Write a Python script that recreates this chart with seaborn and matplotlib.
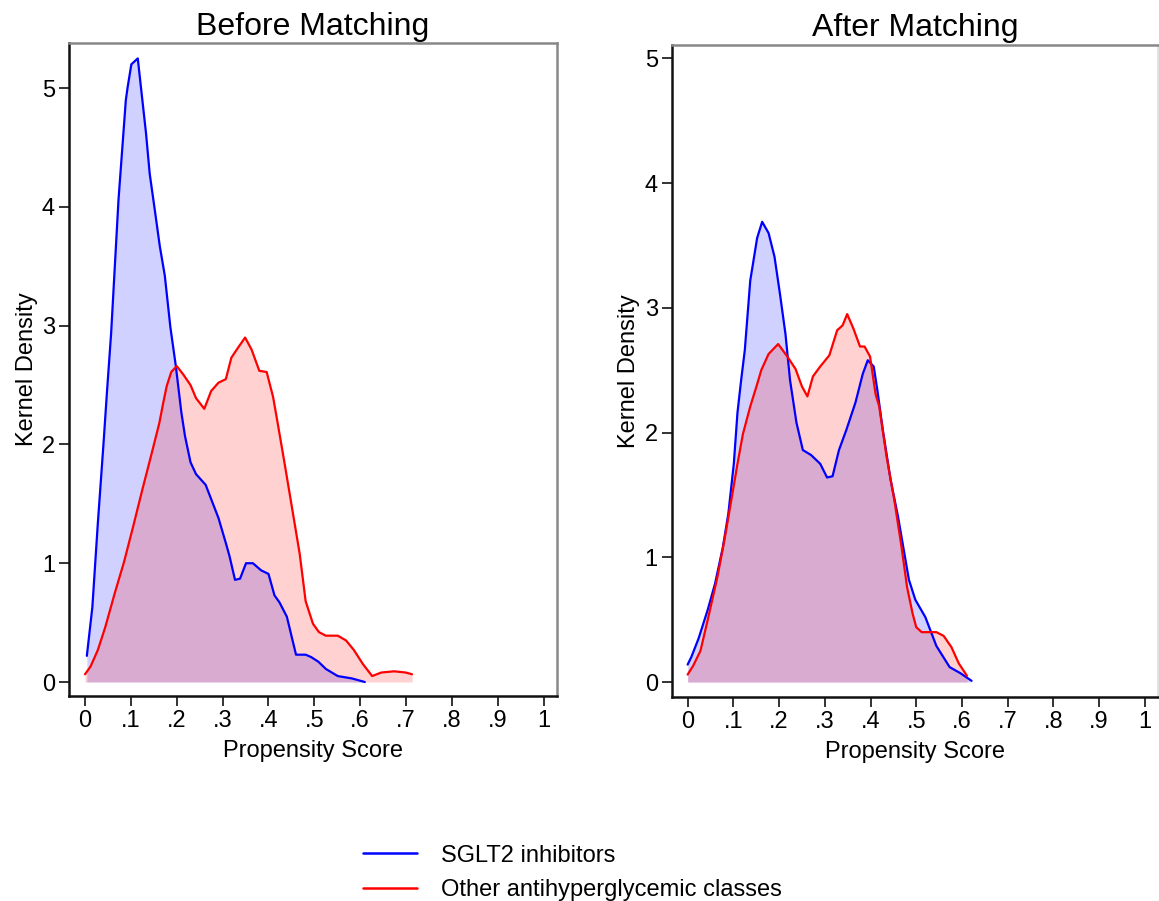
import matplotlib
matplotlib.use("Agg")
import matplotlib.pyplot as plt
import pandas as pd
import seaborn as sns
from matplotlib.lines import Line2D

groups = ["SGLT2 inhibitors", "Other antihyperglycemic classes"]
colors = ["#0000FF", "#FF0000"]

# Before matching
before_sglt2_x = [0.004, 0.016, 0.028, 0.040, 0.048, 0.057, 0.073, 0.081, 0.089, 0.093, 0.101, 0.115,
                  0.125, 0.133, 0.141, 0.153, 0.163, 0.174, 0.186, 0.198, 0.210, 0.218, 0.230, 0.242,
                  0.263, 0.275, 0.291, 0.307, 0.315, 0.327, 0.338, 0.351, 0.366, 0.384, 0.400, 0.413,
                  0.424, 0.440, 0.460, 0.481, 0.493, 0.509, 0.525, 0.551, 0.582, 0.610]
before_sglt2_y = [0.22, 0.63, 1.34, 1.99, 2.45, 2.94, 4.06, 4.48, 4.90, 5.01, 5.20, 5.25,
                  4.90, 4.62, 4.28, 3.95, 3.67, 3.42, 2.99, 2.66, 2.27, 2.07, 1.85, 1.75,
                  1.66, 1.54, 1.38, 1.17, 1.06, 0.86, 0.87, 1.00, 1.00, 0.94, 0.91, 0.73,
                  0.67, 0.55, 0.23, 0.23, 0.21, 0.17, 0.11, 0.05, 0.03, 0.00]
before_other_x = [0.000, 0.012, 0.028, 0.044, 0.065, 0.085, 0.105, 0.125, 0.145, 0.162, 0.170, 0.178,
                  0.188, 0.200, 0.214, 0.230, 0.242, 0.250, 0.260, 0.275, 0.291, 0.307, 0.319, 0.331,
                  0.349, 0.363, 0.380, 0.396, 0.410, 0.420, 0.436, 0.452, 0.468, 0.481, 0.497, 0.510,
                  0.525, 0.551, 0.569, 0.586, 0.606, 0.626, 0.646, 0.674, 0.699, 0.713]
before_other_y = [0.065, 0.13, 0.27, 0.46, 0.75, 1.01, 1.31, 1.62, 1.92, 2.18, 2.34, 2.49,
                  2.61, 2.66, 2.59, 2.50, 2.39, 2.35, 2.30, 2.45, 2.52, 2.55, 2.73, 2.80,
                  2.90, 2.80, 2.62, 2.61, 2.40, 2.18, 1.82, 1.45, 1.08, 0.68, 0.49, 0.42,
                  0.39, 0.39, 0.35, 0.27, 0.15, 0.05, 0.08, 0.09, 0.08, 0.065]

# After matching
after_sglt2_x = [0.000, 0.008, 0.024, 0.044, 0.060, 0.077, 0.089, 0.101, 0.109, 0.117, 0.125, 0.137,
                 0.152, 0.163, 0.177, 0.190, 0.202, 0.214, 0.224, 0.238, 0.252, 0.270, 0.290, 0.305,
                 0.317, 0.331, 0.347, 0.367, 0.383, 0.394, 0.407, 0.415, 0.427, 0.444, 0.460, 0.484,
                 0.498, 0.520, 0.544, 0.573, 0.597, 0.621]
after_sglt2_y = [0.14, 0.20, 0.35, 0.58, 0.79, 1.08, 1.35, 1.75, 2.16, 2.42, 2.66, 3.22,
                 3.56, 3.69, 3.60, 3.41, 3.11, 2.79, 2.42, 2.08, 1.86, 1.82, 1.75, 1.64,
                 1.65, 1.86, 2.02, 2.24, 2.47, 2.58, 2.53, 2.34, 2.02, 1.62, 1.33, 0.82,
                 0.66, 0.52, 0.29, 0.12, 0.07, 0.01]
after_other_x = [0.000, 0.012, 0.028, 0.044, 0.065, 0.081, 0.097, 0.109, 0.121, 0.137, 0.153, 0.161,
                 0.177, 0.198, 0.218, 0.236, 0.250, 0.262, 0.274, 0.290, 0.310, 0.327, 0.339, 0.349,
                 0.363, 0.377, 0.387, 0.399, 0.411, 0.419, 0.435, 0.452, 0.468, 0.480, 0.492, 0.500,
                 0.512, 0.544, 0.560, 0.577, 0.593, 0.611]
after_other_y = [0.06, 0.13, 0.25, 0.50, 0.84, 1.15, 1.49, 1.75, 1.99, 2.21, 2.40, 2.50,
                 2.63, 2.71, 2.61, 2.51, 2.37, 2.29, 2.45, 2.53, 2.62, 2.82, 2.86, 2.95,
                 2.83, 2.69, 2.69, 2.61, 2.31, 2.21, 1.81, 1.46, 1.08, 0.76, 0.55, 0.44,
                 0.40, 0.40, 0.37, 0.28, 0.15, 0.05]

x_ticks = [0, 0.1, 0.2, 0.3, 0.4, 0.5, 0.6, 0.7, 0.8, 0.9, 1.0]
x_tick_labels = ["0", ".1", ".2", ".3", ".4", ".5", ".6", ".7", ".8", ".9", "1"]
y_ticks = [0, 1, 2, 3, 4, 5]


def to_frame(x, y, group):
    return pd.DataFrame({"score": x, "density": y, "group": group})


def draw_panel(ax, frames, title, ylim):
    # Stata style: area then line for each group in turn
    for frame, color in zip(frames, colors):
        ax.fill_between(frame["score"], 0, frame["density"], color=color, alpha=0.18, lw=0)
        sns.lineplot(data=frame, x="score", y="density", color=color, sort=False,
                     estimator=None, linewidth=1.6, ax=ax, legend=False)

    ax.set_xlim(-0.035, 1.029)
    ax.set_ylim(*ylim)
    ax.set_xticks(x_ticks)
    ax.set_xticklabels(x_tick_labels)
    ax.set_yticks(y_ticks)
    ax.set_title(title, fontsize=23, pad=6, color="black")
    ax.set_xlabel("Propensity Score", fontsize=17, labelpad=6, color="black")
    ax.set_ylabel("Kernel Density", fontsize=17, labelpad=3, color="black")
    ax.tick_params(bottom=True, left=True, direction="out", length=7, width=1.4,
                   color="#333333", labelsize=17, labelcolor="black", pad=3)

    for side in ["left", "bottom"]:
        ax.spines[side].set_color("#111111")
        ax.spines[side].set_linewidth(1.8)
    for side in ["top", "right"]:
        ax.spines[side].set_color("#888888")
        ax.spines[side].set_linewidth(1.8)
        ax.spines[side].set_visible(True)


sns.set_style("white")
plt.rcParams["font.family"] = ["Liberation Sans", "DejaVu Sans"]

fig = plt.figure(figsize=(11.59, 9.01), dpi=100)
ax_before = fig.add_axes([0.0595, 0.2275, 0.4211, 0.7248])
ax_after = fig.add_axes([0.5795, 0.2264, 0.4197, 0.7240])

draw_panel(ax_before,
           [to_frame(before_sglt2_x, before_sglt2_y, groups[0]),
            to_frame(before_other_x, before_other_y, groups[1])],
           "Before Matching", (-0.118, 5.38))
draw_panel(ax_after,
           [to_frame(after_sglt2_x, after_sglt2_y, groups[0]),
            to_frame(after_other_x, after_other_y, groups[1])],
           "After Matching", (-0.12, 5.11))
ax_after.spines["right"].set_color("#dddddd")

handles = [Line2D([], [], color=c, lw=1.8) for c in colors]
fig.legend(handles=handles, labels=groups, loc="center left",
           bbox_to_anchor=(363 / 1159, 1 - 873 / 901), frameon=False, fontsize=17,
           handlelength=2.3, handletextpad=1.0, labelspacing=0.55,
           borderpad=0, borderaxespad=0, labelcolor="black")

plt.savefig("out.png", dpi=100)
plt.close()
